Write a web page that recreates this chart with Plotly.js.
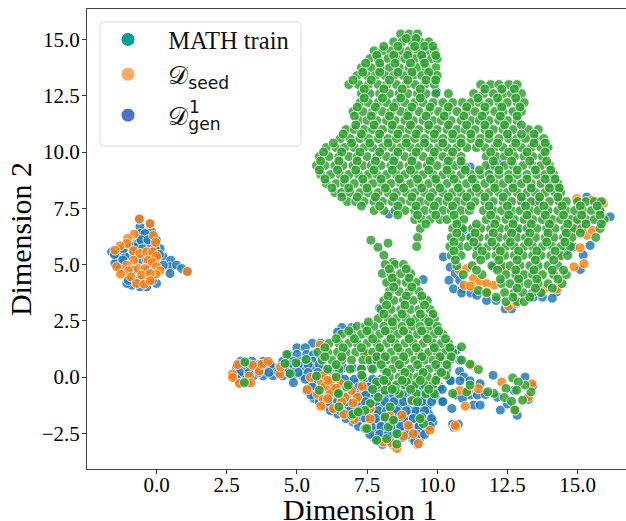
<!DOCTYPE html>
<html><head><meta charset="utf-8">
<script src="https://cdn.plot.ly/plotly-3.0.1.min.js"></script>
<style>html,body{margin:0;padding:0;background:#fff;overflow:hidden;width:626px;height:521px}</style>
</head><body><div id="chart"></div>
<script>
// Each row: y value, then the x values at that height
const trainRows = [
[15.25,8.7,9.0,9.3],[14.9,8.45,8.75,9.1,9.4,9.7],
[14.5,7.75,8.05,8.35,8.7,9.0,9.3,9.65,9.9],
[14.15,7.6,7.9,8.25,8.55,8.85,9.2,9.5,9.8,10.0],
[13.75,7.3,7.65,8.0,8.3,8.65,9.0,9.3,9.6,9.95],
[13.4,7.15,7.5,7.8,8.15,8.45,8.8,9.15,9.45,9.8,10.0],
[13.0,6.85,7.2,7.55,7.9,8.2,8.55,8.9,9.2,9.55,9.9,11.55,11.9,12.2,12.55,12.85],
[12.6,7.3,7.6,7.95,8.3,8.65,8.95,9.3,9.6,9.95,10.4,11.3,11.65,12.0,12.35,12.65,13.0],
[12.2,7.25,7.55,7.9,8.2,8.55,8.85,9.2,9.5,9.85,10.2,10.55,10.9,11.2,11.5,11.85,12.2,12.5,12.85,13.1],
[11.8,7.0,7.35,7.7,8.05,8.35,8.7,9.0,9.35,9.7,10.05,10.35,10.7,11.05,11.35,11.7,12.05,12.35,12.7,13.0],
[11.4,7.2,7.5,7.85,8.2,8.5,8.85,9.15,9.5,9.85,10.15,10.5,10.85,11.2,11.5,11.85,12.2,12.5,12.85],
[11.0,6.75,7.05,7.4,7.7,8.05,8.4,8.7,9.0,9.35,9.7,10.0,10.35,10.7,11.0,11.35,11.7,12.0,12.35,12.7,13.25,13.6],
[10.6,6.55,6.9,7.25,7.55,7.9,8.25,8.55,8.9,9.2,9.55,9.9,10.2,10.55,10.85,11.2,11.55,11.85,12.2,12.55,12.85,13.15,13.5,13.8],
[10.2,6.05,6.4,6.7,7.05,7.4,7.7,8.05,8.4,8.7,9.05,9.35,9.7,10.05,10.35,10.7,11.05,11.4,11.7,12.05,12.35,12.7,13.0,13.35,13.7,13.95],
[9.8,5.8,6.15,6.5,6.85,7.15,7.5,7.85,8.2,8.5,8.85,9.15,9.5,9.85,10.2,10.5,10.85,11.75,12.1,12.4,12.75,13.1,13.4,13.75],
[9.4,5.7,6.0,6.35,6.65,7.0,7.35,7.65,8.0,8.35,8.65,9.0,9.3,9.65,10.0,10.35,10.65,10.9,11.75,12.05,12.4,12.7,13.05,13.4,13.7,14.0],
[9.0,5.85,6.2,6.55,6.85,7.2,7.55,7.85,8.2,8.55,8.85,9.2,9.5,9.85,10.2,10.5,10.85,11.2,11.55,11.85,12.2,12.55,12.85,13.2,13.55,13.85,14.15],
[8.6,6.05,6.4,6.7,7.05,7.4,7.7,8.05,8.35,8.7,9.05,9.35,9.7,10.0,10.35,10.7,11.05,11.35,11.7,12.05,12.35,12.7,13.0,13.35,13.7,14.0,14.3],
[8.2,6.35,6.6,6.9,7.25,7.55,7.9,8.25,8.55,8.9,9.2,9.55,9.85,10.2,10.55,10.85,11.2,11.5,11.85,12.2,12.5,12.85,13.2,13.5,13.85,14.2,14.4],
[7.8,6.8,7.1,7.4,7.75,8.05,8.4,8.7,9.05,9.4,9.7,10.05,10.35,10.7,11.0,11.35,11.7,12.0,12.35,12.65,13.0,13.35,13.65,14.0,14.35,14.6,15.0,15.3,15.6,15.85],
[7.4,7.75,8.1,8.5,8.85,9.2,9.55,9.85,10.2,10.5,10.85,11.15,11.65,12.0,12.3,12.65,12.95,13.3,13.6,13.95,14.3,14.6,14.9,15.2,15.5,15.8],
[7.0,9.2,9.45,9.75,10.1,10.35,10.7,10.95,11.75,12.1,12.45,12.75,13.1,13.4,13.75,14.1,14.4,14.75,15.0,15.3,15.6,15.95],
[6.6,9.4,10.55,10.9,11.25,11.55,11.9,12.25,12.55,12.9,13.2,13.55,13.9,14.2,14.55,14.85,15.15,15.8],
[6.2,9.3,10.5,10.85,11.2,11.5,11.85,12.2,12.5,12.85,13.15,13.5,13.85,14.15,14.5,14.8,15.65],
[5.8,9.27,10.45,10.8,11.1,11.45,11.8,12.1,12.45,12.75,13.1,13.4,13.75,14.1,14.4,14.75],
[5.4,10.5,10.85,11.4,11.75,12.1,12.4,12.75,13.05,13.4,13.7,14.05,14.4,14.65],
[4.95,10.7,11.25,11.95,12.3,12.6,12.95,13.3,13.6,13.95,14.3],
[4.55,10.93,11.6,12.45,12.8,13.1,13.4,13.75,14.15,14.6],
[4.15,12.3,12.6,12.95,13.25,13.6,13.95,14.45],
[3.85,11.47],[3.75,11.76,12.4,12.75,13.05,13.4,13.7],[3.35,12.45,12.85,13.1],
[6.08,7.64],[5.95,8.25],[5.77,7.89],[5.41,8.1],[5.1,8.43],
[5.0,8.15,8.5,8.8],[4.6,8.05,8.35,8.7,9.05],[4.2,8.2,8.55,8.9,9.25],[3.8,8.3,8.65,9.0,9.35],
[3.4,8.1,8.45,8.8,9.15,9.5,9.65],[3.0,8.0,8.35,8.7,9.05,9.35,9.75],[2.6,7.9,8.25,8.55,8.9,9.25,9.55,9.9],
[2.25,7.15,7.45,7.75,8.1,8.45,8.75,9.1,9.4,9.75,10.0],
[1.9,6.6,6.95,7.3,7.6,7.95,8.3,8.6,8.95,9.3,9.6,9.9,10.2],
[1.5,6.15,6.5,6.85,7.15,7.5,7.85,8.2,8.5,8.85,9.15,9.5,9.85,10.15,10.4],
[1.1,5.75,6.1,6.45,6.75,7.1,7.4,7.7,8.0,8.35,8.7,9.0,9.35,9.7,10.0,10.3,10.55],
[0.75,5.9,6.25,6.6,6.95,7.35,7.6,7.85,8.2,8.5,8.85,9.2,9.55,9.85,10.2,10.45],
[0.35,6.1,6.5,6.9,7.3,7.7,8.1,8.4,8.75,9.05,9.4,9.7,10.05,10.35],
[0.0,6.4,7.35,8.3,8.65,9.0,9.3,9.65,10.0],[-0.35,7.85,8.2,8.55,8.85,9.2,9.55,9.85],[-0.75,8.65,9.25,9.6,9.9],[-1.05,9.1],
[-0.22,7.84,8.91],[-0.3,8.2],[-1.18,7.61],[-1.48,7.43],[-1.7,6.95],[-1.33,8.32],[-1.78,8.14,9.45],[-2.22,8.26],[-2.3,7.43],
[-2.81,7.84],[-2.74,8.2],[-2.99,8.56],[-2.52,8.56],[-2.07,9.51],[-0.74,6.48],[-0.44,6.78],[-1.85,9.39],[-1.92,8.44],[-0.9,7.9],[-1.1,9.3],[-0.55,7.7],
[0.67,3.15],[-0.25,3.13],[1.0,4.64],[0.6,4.58],[0.63,4.97],[0.78,5.33],[0.15,4.76],[0.04,5.7],[-0.59,5.8,8.14,8.5],[-1.33,6.5],
[-0.36,6.83],[-1.65,7.0],[-0.73,6.48],[-2.29,7.49],[0.08,7.31],[-1.55,7.19],
[1.34,10.87],[0.57,11.17],[0.33,11.47],[0.08,10.31],[-0.73,10.55,12.02],[0.75,10.87],[-0.66,11.05,11.8,13.34],[-0.36,11.17,13.13],
[-0.04,12.69],[-0.22,12.89],[-0.51,12.45],[-0.91,12.39],[-1.08,12.65],[-1.03,13.04],[-1.47,12.77],[-0.59,12.83],
[15.05,8.9,9.25],[14.7,8.1,8.6,9.2,9.55,9.85],[14.3,7.85,8.45,8.95,9.45,9.95],[13.95,7.45,7.95,8.5,9.05,9.55],
[13.55,7.35,7.95,8.6,9.1,9.7],[13.2,7.0,7.65,8.3,8.95,9.6,9.95],[12.8,7.4,8.1,8.75,9.4,11.7,12.3,12.75],[12.4,7.4,8.05,8.7,9.4,11.45,12.15,12.8],
[12.0,7.15,7.8,8.45,9.1,9.75,10.4,11.05,11.7,12.3,12.95],[11.6,7.05,7.65,8.3,8.95,9.6,10.25,10.95,11.6,12.25,12.85],
[11.2,7.1,7.75,8.4,9.05,9.7,10.4,11.05,11.7,12.4,13.0],[10.8,6.65,7.3,7.95,8.6,9.25,9.9,10.55,11.2,11.85,12.5,13.0,13.45],
[10.4,6.3,6.95,7.6,8.25,8.9,9.55,10.2,10.85,11.5,12.15,12.8,13.45,13.85],[10.0,5.95,6.6,7.25,7.95,8.6,9.25,9.9,10.55,11.9,12.55,13.2,13.85],
[9.6,5.85,6.5,7.15,7.8,8.45,9.1,9.75,10.4,10.85,12.0,12.65,13.3,13.9],[9.2,5.8,6.45,7.1,7.75,8.4,9.05,9.7,10.35,11.0,11.5,12.2,12.85,13.5,14.05],
[8.8,6.0,6.7,7.35,8.0,8.65,9.3,9.95,10.6,11.25,11.9,12.55,13.2,13.85,14.2],[8.4,6.25,6.85,7.5,8.15,8.8,9.45,10.1,10.75,11.4,12.05,12.7,13.35,14.0,14.35],
[8.0,6.6,7.15,7.8,8.45,9.1,9.75,10.4,11.05,11.7,12.35,13.0,13.65,14.3],[7.6,7.3,7.95,8.6,9.25,9.9,10.55,11.2,11.85,12.5,13.15,13.8,14.45,15.1,15.7],
[7.2,8.6,9.3,9.95,10.6,11.9,12.55,13.2,13.85,14.5,15.15,15.8],[6.8,9.6,10.7,11.4,12.05,12.7,13.35,14.0,14.65,15.3,15.85],
[6.4,10.7,11.35,12.0,12.65,13.3,13.95,14.6,15.1],[6.0,10.6,11.3,11.95,12.6,13.25,13.9,14.55],[5.6,10.6,11.6,12.25,12.9,13.55,14.2],
[5.2,10.65,11.55,12.2,12.85,13.5,14.15],[4.75,11.4,12.15,12.8,13.45,14.1,14.5],[4.35,12.25,12.9,13.55,14.3],[3.95,12.85,13.5,14.1],[3.55,12.1,12.7,13.3],
[4.8,8.3,8.9],[4.4,8.4,9.0],[4.0,8.45,9.1],[3.6,8.25,8.9,9.45],[3.2,8.2,8.85,9.55],[2.8,8.1,8.75,9.4,9.85],[2.45,7.55,8.4,9.05,9.7],
[2.05,6.85,7.5,8.15,8.8,9.45,10.05],[1.7,6.4,7.05,7.7,8.35,9.0,9.65,10.3],[1.3,6.0,6.65,7.3,7.95,8.6,9.25,9.9,10.45],
[0.9,6.0,6.6,7.85,8.15,8.8,9.45,10.1,10.5],[0.55,6.4,8.0,8.65,9.3,9.95,10.35],[0.2,8.2,8.85,9.5,10.15],[-0.15,8.1,8.75,9.4,9.95],[-0.55,8.4,9.05,9.7]
];
const seedRows = [
[7.02,-0.61],[6.82,-0.23],[6.35,-0.8],[6.16,-1.03],[5.94,-1.06],[6.29,-0.11],[5.99,-0.03],[5.83,-1.3],[5.64,-1.48],
[5.61,-0.82],[5.49,-0.59],[5.56,-0.35,-0.14],[5.37,0.0],[5.19,-0.29,-0.82],[5.09,-0.14],[4.9,-1.42,0.0],[4.97,-1.06],
[4.72,-1.0,0.125],[4.82,-0.65,-0.41],[4.57,-1.28,-0.02],[4.45,-0.91],[4.53,-0.53],[4.6,-0.23],[4.16,-0.71],[4.13,-0.44],[4.28,-0.23],[4.69,1.1],
[0.55,2.88],[0.13,2.7,4.4],[-0.02,2.71,5.49],[-0.29,2.95,6.18,6.54],[0.04,3.31],[-0.26,3.36],[0.52,3.43],[0.27,3.66],[0.57,3.76],[0.7,3.98],[0.45,4.42],
[-0.56,5.37],[-0.22,5.88,9.95,12.3],[0.08,5.97],[-0.66,6.2],[-0.07,6.3],[-0.76,5.73],[-1.0,5.94],[-0.96,6.1],[-1.3,5.85,11.0],[-1.4,6.3,7.61],
[-0.91,6.72,7.16],[-0.59,6.95],[-0.41,7.33,6.0],[-0.5,6.4],[-0.15,6.1],[-1.1,6.6],[-1.15,7.0],[-1.65,6.68],[-1.89,7.04],[-2.25,7.43],[-2.22,7.49,10.66],[-2.89,8.08],[-2.93,8.38],[-3.18,8.56],
[-2.63,8.8],[-2.15,8.97,10.64],[-2.52,9.15],[-2.96,9.33],[-2.37,9.74],[-1.7,8.74,8.3],[-1.85,7.61],[-1.03,9.09],[0.97,9.5],[1.04,7.49],
[-0.6,10.8,11.11],[-0.52,11.47],[0.52,11.23],[-0.89,13.25],[-1.45,12.77],[-0.3,13.37],[1.41,5.83],
[4.75,10.79],[4.82,11.05,12.36],[4.38,11.29],[4.08,10.96,12.02],[4.04,11.19],[4.23,11.53],[4.15,11.76],[3.78,11.79],[5.71,12.18],[3.15,12.54],[3.27,12.83],
[3.93,13.84,14.28],[4.6,14.14],[5.34,14.38],[4.9,14.87],[5.75,15.09],[5.04,15.23],[6.3,15.33],[6.52,15.53,14.9],[6.82,15.03],[7.71,15.92],[7.93,14.97],[7.74,14.38],[7.86,15.5],[7.34,15.8]
];
const genRows = [
[6.45,-0.47,-0.17],[6.68,-0.59],[6.01,-0.35],[5.94,-0.71,-0.65],[5.49,-1.06,-0.82,-1.3],[5.34,-1.12,0.0,0.24],[5.56,-1.6],[5.27,-1.42],[5.05,-1.24,-1.48],
[5.71,0.125,-1.18],[5.19,0.51],[4.9,0.48],[4.97,0.72,0.24],[4.82,0.9,-1.3],[4.6,0.48],[6.38,-0.59,-0.41],[5.79,-0.82,-0.17],[4.08,-0.88],[4.16,0.0,-1.06],[4.01,-0.35,-0.59],[6.08,0.0],
[7.02,-0.61],[4.69,1.1],[6.82,-0.23],
[6.1,-0.55,-0.3],[5.7,-0.5,-0.05],[5.2,-1.2,-0.6,-0.35,-0.05],[4.75,-0.85,-0.3],[4.3,-1.0,-0.6,-0.15],[5.9,-1.0],[5.45,-1.5,-0.2,0.1],
[1.5,5.55,5.85],[1.3,5.0,5.3],[1.0,4.7,5.0,5.35,5.6],[0.7,3.0,3.4,3.8,4.5,4.85,5.2,5.55,7.7],
[0.4,2.85,3.15,3.5,3.85,4.2,4.55,4.9,5.25,5.6,5.95,6.3,6.65,7.0,7.3,7.65],
[0.05,2.75,3.1,3.45,3.8,4.15,4.5,4.85,5.2,5.5,5.85,6.2,6.5],
[-0.25,3.0,3.25,4.88,5.5,5.8,6.15,6.5,6.85,7.2,7.55,7.9,8.25],
[-0.6,5.35,5.7,6.05,6.35,6.7,7.05,7.35,7.7,8.05,8.4,8.7,9.0,9.35,9.7,10.0],
[-0.95,5.6,5.9,6.3,6.6,6.95,7.3,7.6,7.95,8.3,8.6,8.95,9.3,9.6,9.95],
[-1.3,6.0,6.35,6.7,7.0,7.35,7.7,8.05,8.35,8.7,9.05,9.35,9.65],
[-1.65,6.45,6.75,7.1,7.45,7.75,8.1,8.45,8.75,9.1,9.4,9.7],
[-2.0,7.0,7.3,7.6,7.95,8.3,8.6,8.95,9.3,9.6,9.85],
[-2.35,7.5,7.85,8.2,8.5,8.85,9.2,9.5],[-2.7,7.75,8.05,8.4,8.75,9.1,9.4],[-3.0,8.05,8.4,9.3],
[0.55,2.95,3.3,3.65,4.05,4.7,5.05,5.4,5.8],[0.2,2.95,3.3,3.65,4.0,4.35,4.7,5.05,5.4,5.75,6.1],[-0.1,2.85,5.3,5.65,6.0,6.35,6.7,7.05,7.4,7.7,8.0],
[-0.45,5.55,5.9,6.2,6.55,6.9,7.2,7.55,7.9,8.25,8.55,8.85,9.2,9.5,9.85,10.1],[-0.8,5.5,5.8,6.15,6.45,6.8,7.1,7.45,7.8,8.15,8.45,8.8,9.1,9.45,9.8],
[-1.1,5.8,6.15,6.45,6.8,7.15,7.45,7.8,8.15,8.45,8.8,9.15,9.45,9.8],[-1.5,6.2,6.55,6.9,7.25,7.55,7.9,8.2,8.55,8.9,9.25,9.55],
[-1.85,6.75,7.15,7.45,7.8,8.15,8.45,8.8,9.15,9.5,9.8],[-2.2,7.2,7.65,8.0,8.35,8.7,9.0,9.35,9.75],[-2.55,7.6,7.95,8.25,8.6,8.95,9.3,9.55],[-2.85,7.9,8.25,9.2],
[2.2,6.6,6.95],[2.0,6.45],[3.05,7.95],[1.26,10.4],[1.2,10.7],[0.75,10.8],[0.25,10.8],[0.0,10.95],[-0.15,10.45],[-1.08,10.18],
[0.08,11.99],[-0.17,10.48,10.81,11.17],[-0.55,10.18],[-1.1,10.2],[-1.4,10.52],[-0.8,10.66,11.17,11.43],[-0.95,10.9],[-0.3,11.53],[-1.25,11.3,11.53],
[-0.78,11.72],[-0.9,12.15],[-1.47,12.25],[-1.2,12.5],[0.0,13.13],[-1.0,13.25],[-1.7,12.85],[-0.6,12.73],[-0.4,13.4],
[-2.1,10.55,10.75],[-2.25,10.6],
[5.34,10.22],[4.88,10.46],[4.59,10.64],[4.3,10.42,10.8],[3.92,10.58,10.9],[3.73,10.87,11.2],[3.63,11.41],[3.4,11.76,12.1],[3.03,12.42,12.65],[3.55,13.43,13.75],[3.78,14.25],[3.5,14.1],
[5.63,14.6],[5.78,14.85],[5.42,15.2],[5.85,15.45],[4.78,15.1],[7.12,16.16],[7.71,15.8],[8.0,15.33],[9.34,11.17,11.0],[9.3,11.9],
[7.78,13.07,13.5],[7.24,8.28],[7.8,13.07],[7.77,13.1,13.55],[6.52,12.83],[5.74,11.4],[6.52,10.93],[6.22,11.17],[4.88,12.0],[12.67,9.98],[9.5,12.2],
[4.33,9.5]
];

const xTicks = [0,2.5,5,7.5,10,12.5,15];
const yTicks = [-2.5,0,2.5,5,7.5,10,12.5,15];

function unrollX(rows){const o=[];rows.forEach(r=>r.slice(1).forEach(v=>o.push(v)));return o;}
function unrollY(rows){const o=[];rows.forEach(r=>r.slice(1).forEach(()=>o.push(r[0])));return o;}

const serif = '"Liberation Serif","Times New Roman",serif';
const sans = 'DejaVu Sans';
const mk = c => ({color:c,size:10,opacity:0.82,line:{color:'#fff',width:1}});
const pts = (rows,c) => ({type:'scatter',mode:'markers',x:unrollX(rows),y:unrollY(rows),marker:mk(c),showlegend:false,hoverinfo:'skip'});
const key = (name,c,g) => ({type:'scatter',mode:'markers',x:[null],y:[null],name:name,legendgroup:g,marker:{color:c,size:14,line:{color:'#fff',width:1}}});
const pad = '\u00a0\u00a0';

const data = [
  pts(genRows,'#1f77b4'), pts(seedRows,'#ff7f0e'), pts(trainRows,'#2ca02c'),
  key(pad+'MATH train','#029e96','a'),
  key(pad+'𝒟<sub><span style="font-family:DejaVu Sans">seed</span></sub>','#ffab66','a'),
  key(pad+'𝒟<sub><span style="font-family:DejaVu Sans">gen</span></sub>','#4a72c8','b')
];
const axisBase = {showgrid:false,zeroline:false,showline:true,mirror:true,linecolor:'#444',linewidth:1,ticks:'outside',ticklen:4,tickwidth:1,tickcolor:'#333',
  tickformat:'.1f',tickfont:{family:serif,size:21,color:'#000'},automargin:false};
const W = 632, H = 460;
const fx = p => (p-87)/(W-87), fy = p => (469-p)/H;
const x0=fx(100),x1=fx(301),y0=fy(22),y1=fy(146),rx=5/(W-87),ry=5/H;
const layout = {
  width:W,height:521,margin:{l:87,r:0,t:9,b:52},paper_bgcolor:'#fff',plot_bgcolor:'#fff',
  xaxis:Object.assign({},axisBase,{range:[-2.476,16.94],tickvals:xTicks,ticklabelstandoff:-7}),
  yaxis:Object.assign({},axisBase,{range:[-4.09,16.36],tickvals:yTicks,ticklabelstandoff:-2,title:{text:'Dimension 2',font:{family:serif,size:30,color:'#000'},standoff:1}}),
  legend:{x:fx(100),y:fy(17),xanchor:'left',yanchor:'top',bgcolor:'rgba(0,0,0,0)',borderwidth:0,
    font:{family:serif,size:24.5,color:'#111'},itemwidth:46,tracegroupgap:6},
  shapes:[{type:'path',xref:'paper',yref:'paper',layer:'above',fillcolor:'rgba(255,255,255,0.8)',line:{color:'#ddd',width:1},
    path:`M${x0+rx},${y0} L${x1-rx},${y0} Q${x1},${y0} ${x1},${y0-ry} L${x1},${y1+ry} Q${x1},${y1} ${x1-rx},${y1} L${x0+rx},${y1} Q${x0},${y1} ${x0},${y1+ry} L${x0},${y0-ry} Q${x0},${y0} ${x0+rx},${y0} Z`}],
  annotations:[
    {xref:'paper',yref:'paper',x:fx(194),y:fy(107),xanchor:'center',yanchor:'middle',showarrow:false,text:'1',font:{family:sans,size:17,color:'#111'}},
    {xref:'paper',yref:'paper',x:fx(359.5),y:fy(509),xanchor:'center',yanchor:'middle',showarrow:false,text:'Dimension 1',font:{family:serif,size:30,color:'#000'}}
  ]
};
Plotly.newPlot('chart',data,layout,{displayModeBar:false,staticPlot:true});
</script></body></html>
